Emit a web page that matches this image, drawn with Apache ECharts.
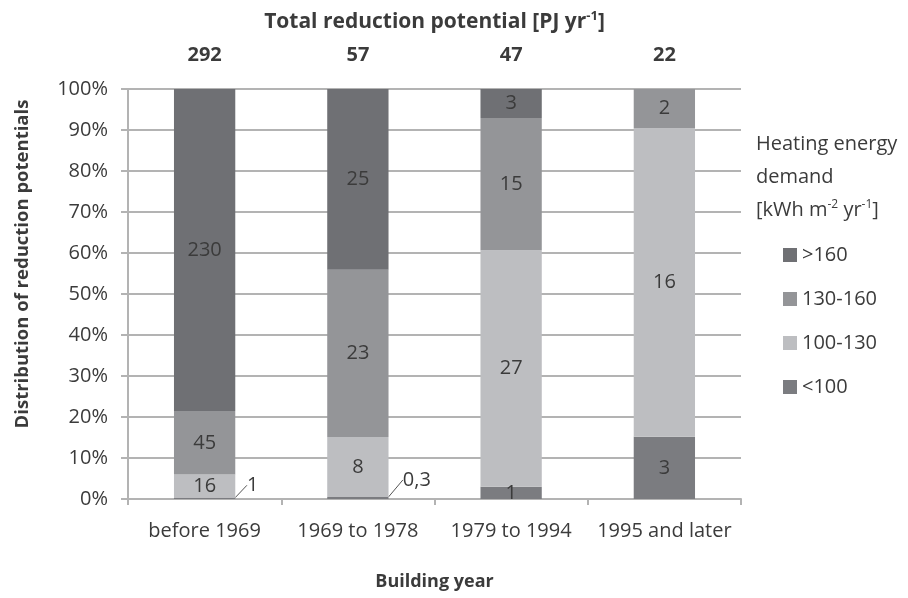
<!DOCTYPE html>
<html>
<head>
<meta charset="UTF-8">
<title>Reduction potentials</title>
<style>
  html, body { margin: 0; padding: 0; background: #fff; }
  #chart { width: 908px; height: 598px; }
</style>
</head>
<body>
<div id="chart"></div>
<script src="https://cdn.jsdelivr.net/npm/echarts@6/dist/echarts.min.js"></script>
<script>
// building year classes and the total potential of each (PJ/yr)
var categories = ['before 1969', '1969 to 1978', '1979 to 1994', '1995 and later'];
var totals = ['292', '57', '47', '22'];

// share of each heating demand class in the bar, %
var shareLt100 = [0.35, 0.5, 3.0, 15.2];
var share100to130 = [5.6, 14.6, 57.7, 75.2];
var share130to160 = [15.5, 40.8, 32.2, 9.6];
var shareGt160 = [78.55, 44.1, 7.1, 0];

// absolute values written on the segments (PJ/yr)
var labelLt100 = ['1', '0,3', '1', '3'];
var label100to130 = ['16', '8', '27', '16'];
var label130to160 = ['45', '23', '15', '2'];
var labelGt160 = ['230', '25', '3', ''];

var FONT = 'Open Sans';
var TEXT = '#3b3b3b';
var GRID_LINE = '#b3b3b3';

var chart = echarts.init(document.getElementById('chart'));

// segment labels
function segLabel(texts) {
  return {
    show: true,
    position: 'inside',
    fontFamily: FONT,
    fontSize: 20,
    color: TEXT,
    formatter: function (p) { return texts[p.dataIndex]; }
  };
}

// the two tiny "<100" pieces get their label pulled out with a leader line
var tinyShift = { 0: [48, -13], 1: [59, -18] };
var lt100Data = shareLt100.map(function (v, i) {
  if (tinyShift[i]) {
    return { value: v, labelLine: { show: true, lineStyle: { color: '#555', width: 1 } } };
  }
  return v;
});

var option = {
  backgroundColor: '#fff',
  animation: false,
  title: {   // legend heading
    text: 'Heating energy\ndemand\n[kWh m{sup|-2} yr{sup|-1}]',
    left: 756,
    top: 128,
    padding: 0,
    textStyle: {
      fontFamily: FONT,
      fontSize: 20,
      fontWeight: 'normal',
      color: TEXT,
      lineHeight: 33,
      rich: {
        sup: { fontFamily: FONT, fontSize: 12, color: TEXT, padding: [0, 0, 12, 0] }
      }
    }
  },
  legend: {
    orient: 'vertical',
    left: 783,
    top: 244,
    padding: 0,
    data: ['>160', '130-160', '100-130', '<100'],
    icon: 'rect',
    itemWidth: 14,
    itemHeight: 14,
    itemGap: 22,
    textStyle: { fontFamily: FONT, fontSize: 20, color: TEXT, lineHeight: 22 }
  },
  grid: { left: 128, right: 167, top: 89, bottom: 99 },
  xAxis: [{
    type: 'category',
    data: categories,
    position: 'bottom',
    name: 'Building year',
    nameLocation: 'middle',
    nameGap: 74,
    nameTextStyle: { fontFamily: FONT, fontSize: 18, fontWeight: 'bold', color: TEXT },
    axisLine: { lineStyle: { color: GRID_LINE, width: 2 } },
    axisTick: { show: true, length: 6, lineStyle: { color: GRID_LINE, width: 2 } },
    axisLabel: { interval: 0, fontFamily: FONT, fontSize: 20, color: TEXT, margin: 22 },
    splitLine: { show: false }
  }, {
    // totals written above each bar
    type: 'category',
    data: totals,
    position: 'top',
    name: 'Total reduction potential [PJ yr{sup|-1}]',
    nameLocation: 'middle',
    nameGap: 54,
    nameTextStyle: {
      fontFamily: FONT, fontSize: 21, fontWeight: 'bold', color: TEXT,
      rich: { sup: { fontFamily: FONT, fontSize: 13, fontWeight: 'bold', color: TEXT, padding: [0, 0, 12, 0] } }
    },
    axisLine: { show: false },
    axisTick: { show: false },
    axisLabel: { interval: 0, fontFamily: FONT, fontSize: 20, fontWeight: 'bold', color: TEXT, margin: 24 }
  }],
  yAxis: {
    type: 'value',
    min: 0,
    max: 100,
    interval: 10,
    name: 'Distribution of reduction potentials',
    nameLocation: 'middle',
    nameGap: 96,
    nameTextStyle: { fontFamily: FONT, fontSize: 18.5, fontWeight: 'bold', color: TEXT, padding: [0, 0, 0, 60] },
    axisLine: { show: true, lineStyle: { color: GRID_LINE, width: 2 } },
    axisTick: { show: true, length: 7, lineStyle: { color: GRID_LINE, width: 2 } },
    axisLabel: { fontFamily: FONT, fontSize: 20, color: TEXT, margin: 20, formatter: '{value}%' },
    splitLine: { lineStyle: { color: GRID_LINE, width: 2 } }
  },
  series: [{
    name: '<100',
    type: 'bar',
    stack: 'all',
    barCategoryGap: '60%',
    itemStyle: { color: '#7b7c80' },
    label: segLabel(labelLt100),
    labelLayout: function (p) {
      var s = tinyShift[p.dataIndex];
      if (s) return { dx: s[0], dy: s[1] };
    },
    data: lt100Data
  }, {
    name: '100-130',
    type: 'bar',
    stack: 'all',
    barCategoryGap: '60%',
    itemStyle: { color: '#bdbec1' },
    label: segLabel(label100to130),
    data: share100to130
  }, {
    name: '130-160',
    type: 'bar',
    stack: 'all',
    barCategoryGap: '60%',
    itemStyle: { color: '#949598' },
    label: segLabel(label130to160),
    data: share130to160
  }, {
    name: '>160',
    type: 'bar',
    stack: 'all',
    barCategoryGap: '60%',
    itemStyle: { color: '#6f7074' },
    label: segLabel(labelGt160),
    data: shareGt160
  }]
};

chart.setOption(option);
</script>
</body>
</html>
